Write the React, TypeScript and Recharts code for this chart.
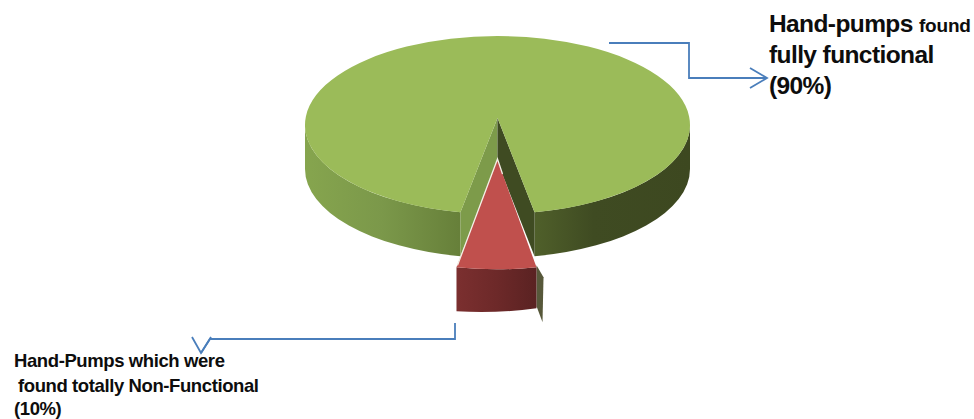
import { PieChart, Pie } from 'recharts'

const SLICE_NAMES = ['Hand-pumps found fully functional', 'Hand-Pumps which were found totally Non-Functional']
const SLICE_VALUES = [90, 10]
const TOP_COLORS = ['#9bbb59', '#c0504d']

const data = SLICE_NAMES.map((name, i) => ({ name, value: SLICE_VALUES[i], fill: TOP_COLORS[i] }))

const WIDTH = 974
const HEIGHT = 419
const CX = 497.5
const CY = 125
const RADIUS = 192.5
const TILT = 0.462 // vertical squash of the disc
const DEPTH = 44 // wall height
const APEX_LIFT = 7 // perspective pushes the centre point above the ellipse centre
const WARP = 0.39 // perspective narrowing of slices pointing at the viewer

// screen angle on the ellipse, measured from the bottom, for a pie angle
const toPhi = (angle: number) => {
  let t = ((angle - 270) * Math.PI) / 180
  while (t > Math.PI) t -= 2 * Math.PI
  while (t < -Math.PI) t += 2 * Math.PI
  return t - WARP * Math.sin(t)
}

const f = (n: number) => n.toFixed(2)

function BigSlice({ cx, cy, outerRadius, startAngle, endAngle, fill }: any) {
  const rx = outerRadius
  const ry = outerRadius * TILT
  const pt = (phi: number) => [cx + rx * Math.sin(phi), cy + ry * Math.cos(phi)]
  const [rX, rY] = pt(toPhi(startAngle))
  const [lX, lY] = pt(toPhi(endAngle))
  const apexX = cx
  const apexY = cy - APEX_LIFT
  const left = cx - rx
  const right = cx + rx
  const leftWall = `M${f(left)},${f(cy)} A${f(rx)},${f(ry)} 0 0 0 ${f(lX)},${f(lY)} L${f(lX)},${f(lY + DEPTH)} A${f(rx)},${f(ry)} 0 0 1 ${f(left)},${f(cy + DEPTH)} Z`
  const rightWall = `M${f(rX)},${f(rY)} A${f(rx)},${f(ry)} 0 0 0 ${f(right)},${f(cy)} L${f(right)},${f(cy + DEPTH)} A${f(rx)},${f(ry)} 0 0 1 ${f(rX)},${f(rY + DEPTH)} Z`
  return (
    <g>
      <defs>
        <linearGradient id="greenWall" gradientUnits="userSpaceOnUse" x1={left} x2={right} y1={0} y2={0}>
          <stop offset="0" stopColor="#86a54e" />
          <stop offset="0.2" stopColor="#7b984a" />
          <stop offset="0.4" stopColor="#67803a" />
          <stop offset="0.6" stopColor="#4f5f2a" />
          <stop offset="0.75" stopColor="#3f4b22" />
          <stop offset="1" stopColor="#3d4820" />
        </linearGradient>
      </defs>
      <path d={leftWall} fill="url(#greenWall)" />
      <path d={rightWall} fill="url(#greenWall)" />
      <polygon points={`${apexX},${apexY} ${lX},${lY} ${lX},${lY + DEPTH} ${apexX},${apexY + DEPTH}`} fill="#7d9b4a" />
      <polygon points={`${apexX},${apexY} ${rX},${rY} ${rX},${rY + DEPTH} ${apexX},${apexY + DEPTH}`} fill="#3f4b22" />
      <path
        d={`M${apexX},${apexY} L${f(rX)},${f(rY)} A${f(rx)},${f(ry)} 0 1 0 ${f(lX)},${f(lY)} Z`}
        fill={fill}
      />
    </g>
  )
}

const EXPLODE = 42
const NEAR_X = 1.08 // pulled-out slice sits closer, so it reads larger
const NEAR_Y = 1.15

function SmallSlice({ cx, cy, outerRadius, startAngle, endAngle, fill }: any) {
  const rx = outerRadius * NEAR_X
  const ry = outerRadius * TILT * NEAR_Y
  const ox = cx - 1
  const oy = cy + EXPLODE
  const pt = (phi: number) => [ox + rx * Math.sin(phi), oy + ry * Math.cos(phi)]
  const [lX, lY] = pt(toPhi(startAngle))
  const [rX, rY] = pt(toPhi(endAngle))
  const apexX = cx
  const apexY = oy - APEX_LIFT
  return (
    <g>
      <defs>
        <linearGradient id="redWall" gradientUnits="userSpaceOnUse" x1={lX} x2={rX} y1={0} y2={0}>
          <stop offset="0" stopColor="#7b2f2f" />
          <stop offset="0.5" stopColor="#6d2929" />
          <stop offset="1" stopColor="#5a2222" />
        </linearGradient>
      </defs>
      {/* inner face peeking out past the right corner */}
      <polygon
        points={`${f(rX)},${f(rY - 2)} ${f(rX + 7)},${f(rY + 10)} ${f(rX + 6)},${f(rY + 55)} ${f(rX)},${f(rY + 39)}`}
        fill="#57583a"
      />
      <path
        d={`M${f(lX)},${f(lY)} A${f(rx)},${f(ry)} 0 0 0 ${f(rX)},${f(rY)} L${f(rX)},${f(rY + DEPTH - 3)} A${f(rx)},${f(ry)} 0 0 1 ${f(lX)},${f(lY + DEPTH)} Z`}
        fill="url(#redWall)"
      />
      <path
        d={`M${apexX},${apexY} L${f(lX)},${f(lY)} A${f(rx)},${f(ry)} 0 0 0 ${f(rX)},${f(rY)} Z`}
        fill={fill}
      />
      <polyline
        points={`${f(lX + 1)},${f(lY - 2)} ${apexX},${apexY - 1} ${apexX + 5},${apexY + 14}`}
        fill="none"
        stroke="#f4efe6"
        strokeWidth={1.3}
      />
    </g>
  )
}

const renderSlice = (props: any) =>
  props.index === 0 ? <BigSlice {...props} /> : <SmallSlice {...props} />

const CALLOUT_BLUE = '#4a7ebb'
const TEXT = { fontFamily: '"Liberation Sans", Arial, sans-serif', fontWeight: 700, fill: '#0d0d0d' }

export default function App() {
  return (
    <div style={{ position: 'absolute', left: 0, top: 0, width: WIDTH, height: HEIGHT, background: '#fff' }}>
      <PieChart width={WIDTH} height={HEIGHT} margin={{ top: 0, right: 0, bottom: 0, left: 0 }}>
        <Pie
          data={data}
          dataKey="value"
          nameKey="name"
          cx={CX}
          cy={CY}
          innerRadius={0}
          outerRadius={RADIUS}
          startAngle={-72}
          endAngle={288}
          paddingAngle={0}
          stroke="none"
          shape={renderSlice}
          isAnimationActive={false}
        />
      </PieChart>
      <svg width={WIDTH} height={HEIGHT} style={{ position: 'absolute', left: 0, top: 0, pointerEvents: 'none' }}>
        <g fill="none" stroke={CALLOUT_BLUE} strokeWidth={1.8}>
          <polyline points="609,43 689,43 689,78 767,78" />
          <polyline points="750,68 767,78 750,88" />
          <polyline points="455,323 455,339 210,339 201,353" />
          <polyline points="192,337 201,353 211,337" />
        </g>
        <g {...TEXT}>
          <text x={769} y={32} fontSize={24.5} letterSpacing={-0.6}>
            Hand-pumps <tspan fontSize={19} letterSpacing={-0.2}>found</tspan>
          </text>
          <text x={769} y={63} fontSize={24.5} letterSpacing={-0.6}>fully functional</text>
          <text x={769} y={94} fontSize={24.5} letterSpacing={-0.6}>(90%)</text>
          <text x={14} y={367} fontSize={18.5} letterSpacing={-0.4}>Hand-Pumps which were</text>
          <text x={18} y={392} fontSize={18.5} letterSpacing={-0.4}>found totally Non-Functional</text>
          <text x={14} y={415} fontSize={18.5} letterSpacing={-0.4}>(10%)</text>
        </g>
      </svg>
    </div>
  )
}
